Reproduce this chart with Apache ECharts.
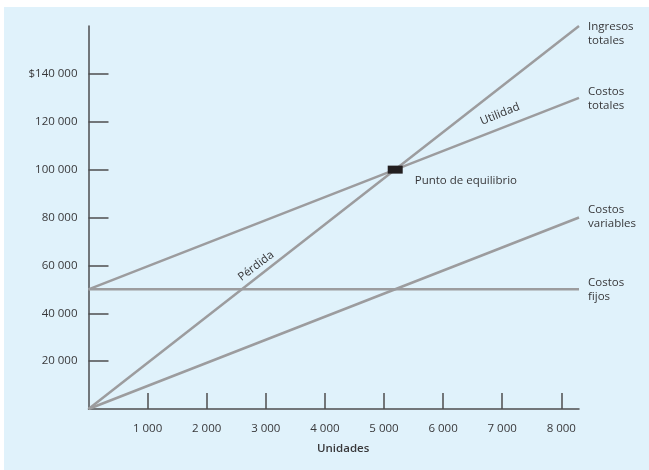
<!DOCTYPE html>
<html>
<head>
<meta charset="utf-8">
<script src="https://cdn.jsdelivr.net/npm/echarts@6/dist/echarts.min.js"></script>
<style>
  html, body { margin: 0; padding: 0; background: #ffffff; }
  #panel { position: absolute; left: 4px; top: 7px; width: 645px; height: 463px; background: #e0f2fb; }
  #chart { position: absolute; left: 0; top: 0; width: 649px; height: 470px; }
</style>
</head>
<body>
<div id="panel"></div>
<div id="chart"></div>
<script>
// Units produced (x) and the four cost / revenue lines at each end
const unidades = [0, 8300];
const ingresosTotales = [0, 160000];
const costosTotales = [50000, 130000];
const costosVariables = [0, 80000];
const costosFijos = [50000, 50000];
// Break-even point: units, amount
const puntoEquilibrio = [5190, 100000];
// Tick values
const xTicks = [1000, 2000, 3000, 4000, 5000, 6000, 7000, 8000];
const yTicks = [20000, 40000, 60000, 80000, 100000, 120000, 140000];

const FONT = '"Open Sans", sans-serif';
const TEXT = '#38383a';
const AXIS = '#4d4d4f';
const LINE = '#9c9c9e';

const thousands = v => String(v).replace(/\B(?=(\d{3})+(?!\d))/g, ' ');
const pairs = ys => unidades.map((x, i) => [x, ys[i]]);

function lineSeries(name, ys, label, offset, extra) {
  return Object.assign({
    name: name,
    type: 'line',
    data: pairs(ys),
    symbol: 'none',
    silent: true,
    lineStyle: { color: LINE, width: 2.5 },
    endLabel: {
      show: true,
      formatter: label,
      distance: 9,
      offset: offset,
      color: TEXT,
      fontFamily: FONT,
      fontSize: 11.5,
      lineHeight: 14,
      align: 'left',
      verticalAlign: 'middle'
    },
    z: 3
  }, extra || {});
}

const annotationLabel = (text, rotate) => ({
  show: true,
  formatter: text,
  position: 'inside',
  rotate: rotate,
  color: TEXT,
  fontFamily: FONT,
  fontSize: 11.5
});

const chart = echarts.init(document.getElementById('chart'), null, { renderer: 'canvas' });

chart.setOption({
  backgroundColor: 'transparent',
  animation: false,
  grid: { left: 88.5, right: 70, top: 26, bottom: 61 },
  xAxis: {
    type: 'value',
    min: 0,
    max: 8300,
    axisLine: { show: true, onZero: false, lineStyle: { color: AXIS, width: 1.5 } },
    axisTick: { show: true, inside: true, length: 16, customValues: xTicks, lineStyle: { color: AXIS, width: 1.5 } },
    axisLabel: { customValues: xTicks, formatter: thousands, margin: 14, color: TEXT, fontFamily: FONT, fontSize: 11.5 },
    splitLine: { show: false }
  },
  yAxis: {
    type: 'value',
    min: 0,
    max: 160000,
    axisLine: { show: true, onZero: false, lineStyle: { color: AXIS, width: 1.5 } },
    axisTick: { show: true, inside: true, length: 20, customValues: yTicks, lineStyle: { color: AXIS, width: 1.5 } },
    axisLabel: {
      customValues: yTicks,
      formatter: v => (v === 140000 ? '$' : '') + thousands(v),
      margin: 11,
      color: TEXT,
      fontFamily: FONT,
      fontSize: 11.5
    },
    splitLine: { show: false }
  },
  graphic: [{
    type: 'text',
    left: 317,
    top: 443,
    style: { text: 'Unidades', fill: TEXT, font: '600 11.5px "Open Sans", sans-serif' }
  }],
  series: [
    lineSeries('Ingresos totales', ingresosTotales, 'Ingresos\ntotales', [0, 8], {
      markPoint: {
        symbol: 'circle',
        symbolSize: 1,
        itemStyle: { color: 'rgba(0,0,0,0)' },
        silent: true,
        data: [{ coord: [2834, 59700], label: annotationLabel('Pérdida', 37) }]
      }
    }),
    lineSeries('Costos totales', costosTotales, 'Costos\ntotales', [0, 1], {
      markPoint: {
        symbol: 'circle',
        symbolSize: 1,
        itemStyle: { color: 'rgba(0,0,0,0)' },
        silent: true,
        data: [{ coord: [6963, 123200], label: annotationLabel('Utilidad', 22) }]
      }
    }),
    lineSeries('Costos variables', costosVariables, 'Costos\nvariables', [0, -1]),
    lineSeries('Costos fijos', costosFijos, 'Costos\nfijos', [0, 0]),
    {
      name: 'Punto de equilibrio',
      type: 'scatter',
      data: [puntoEquilibrio],
      symbol: 'rect',
      symbolSize: [15, 8],
      itemStyle: { color: '#231f20', opacity: 1 },
      label: {
        show: true,
        formatter: 'Punto de equilibrio',
        position: 'right',
        distance: 12,
        offset: [0, 11],
        color: TEXT,
        fontFamily: FONT,
        fontSize: 11.5
      },
      z: 5
    }
  ]
});
</script>
</body>
</html>
